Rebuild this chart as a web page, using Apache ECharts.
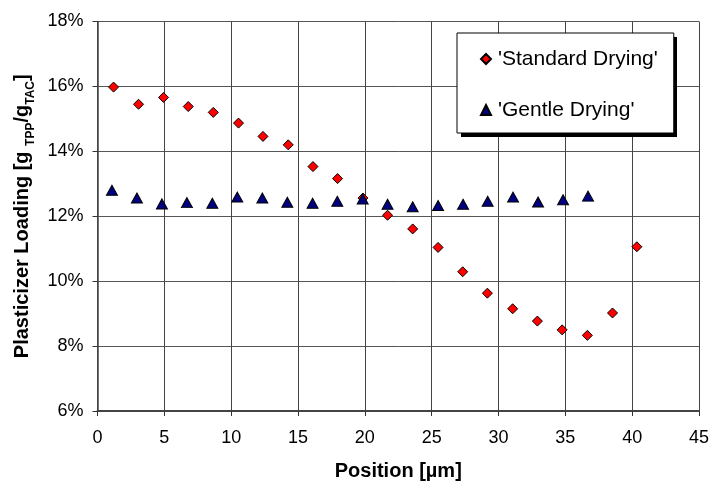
<!DOCTYPE html>
<html>
<head>
<meta charset="utf-8">
<script src="https://cdn.jsdelivr.net/npm/echarts@6/dist/echarts.min.js"></script>
<style>
  html, body { margin: 0; padding: 0; background: #fff; }
  #chart { width: 716px; height: 484px; }
</style>
</head>
<body>
<div id="chart"></div>
<script>
// position [µm] and plasticizer loading [%]
var standardX = [1.2, 3.07, 4.94, 6.79, 8.66, 10.55, 12.38, 14.27, 16.12, 17.96, 19.86, 21.7, 23.58,
                 25.48, 27.32, 29.17, 31.06, 32.91, 34.76, 36.65, 38.53, 40.35];
var standardY = [15.98, 15.45, 15.66, 15.38, 15.2, 14.87, 14.46, 14.2, 13.53, 13.16, 12.56, 12.03, 11.61,
                 11.04, 10.29, 9.63, 9.15, 8.77, 8.5, 8.33, 9.02, 11.06];
var gentleX = [1.08, 2.95, 4.82, 6.69, 8.59, 10.46, 12.33, 14.2, 16.09, 17.94, 19.84, 21.7, 23.58,
               25.48, 27.35, 29.19, 31.09, 32.96, 34.83, 36.7];
var gentleY = [12.8, 12.56, 12.38, 12.42, 12.4, 12.59, 12.56, 12.43, 12.4, 12.46, 12.53, 12.37, 12.29,
               12.33, 12.37, 12.46, 12.59, 12.44, 12.51, 12.62];
var seriesNames = ["'Standard Drying'", "'Gentle Drying'"];

function pairs(xs, ys) {
    return xs.map(function (x, i) { return [x, ys[i]]; });
}

var font = 'Liberation Sans, Arial, sans-serif';
var chart = echarts.init(document.getElementById('chart'), null, { renderer: 'canvas' });

// legend box (the shadow is a plain black rect behind it)
var legendBox = { left: 457, top: 33, width: 216, height: 100, shadow: 4 };

chart.setOption({
    animation: false,
    backgroundColor: '#fff',
    textStyle: { fontFamily: font },
    grid: { left: 97.5, right: 17, top: 21.5, bottom: 73, containLabel: false, outerBoundsMode: 'none' },
    graphic: [{
        type: 'rect',
        z: 1,
        silent: true,
        shape: {
            x: legendBox.left + legendBox.shadow,
            y: legendBox.top + legendBox.shadow,
            width: legendBox.width,
            height: legendBox.height
        },
        style: { fill: '#000' }
    }],
    legend: {
        orient: 'vertical',
        left: legendBox.left,
        top: legendBox.top,
        padding: [14, 16, 11, 23],
        itemGap: 27,
        itemWidth: 10,
        itemHeight: 10,
        backgroundColor: '#fff',
        borderColor: '#000',
        borderWidth: 1,
        borderRadius: 0,
        textStyle: { fontFamily: font, fontSize: 21, lineHeight: 24, color: '#000', padding: [0, 0, 0, 2] },
        data: seriesNames
    },
    xAxis: {
        type: 'value',
        min: 0,
        max: 45,
        interval: 5,
        name: 'Position [µm]',
        nameLocation: 'middle',
        nameGap: 50,
        nameTextStyle: { fontFamily: font, fontSize: 20, fontWeight: 'bold', color: '#000' },
        axisLine: { onZero: false, lineStyle: { color: '#444', width: 2 } },
        axisTick: { show: true, length: 5, lineStyle: { color: '#333' } },
        axisLabel: { fontFamily: font, fontSize: 18, color: '#000', margin: 18 },
        splitLine: { show: true, lineStyle: { color: '#444', width: 1 } }
    },
    yAxis: {
        type: 'value',
        min: 6,
        max: 18,
        interval: 2,
        name: '{m|Plasticizer Loading [g }{s|TPP}{m|/g}{s|TAC}{m|]}',
        nameLocation: 'middle',
        nameGap: 57,
        nameTextStyle: {
            fontFamily: font,
            fontSize: 20,
            fontWeight: 'bold',
            color: '#000',
            rich: {
                m: { fontFamily: font, fontSize: 20, fontWeight: 'bold', lineHeight: 28 },
                s: { fontFamily: font, fontSize: 12, fontWeight: 'bold', lineHeight: 4, verticalAlign: 'bottom' }
            }
        },
        axisLine: { onZero: false, lineStyle: { color: '#444', width: 1.5 } },
        axisTick: { show: true, length: 5, lineStyle: { color: '#333' } },
        axisLabel: { fontFamily: font, fontSize: 18, color: '#000', margin: 14, formatter: '{value}%' },
        splitLine: { show: true, lineStyle: { color: '#555', width: 1 } }
    },
    series: [
        {
            name: seriesNames[0],
            type: 'scatter',
            symbol: 'diamond',
            symbolSize: 10,
            itemStyle: { color: '#ff0000', borderColor: '#000', borderWidth: 1, opacity: 1 },
            data: pairs(standardX, standardY)
        },
        {
            name: seriesNames[1],
            type: 'scatter',
            symbol: 'triangle',
            symbolSize: [11, 10],
            itemStyle: { color: '#000080', borderColor: '#000', borderWidth: 1, opacity: 1 },
            data: pairs(gentleX, gentleY)
        }
    ]
});
</script>
</body>
</html>
